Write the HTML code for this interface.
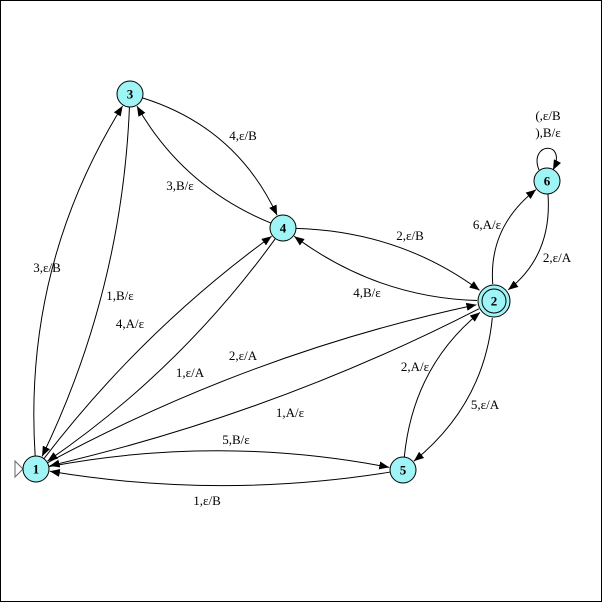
<!DOCTYPE html>
<html><head><meta charset="utf-8"><style>
html,body{margin:0;padding:0;background:#fff}
svg{display:block}
text{font-family:"Liberation Serif",serif;font-size:13px;fill:#000}
.nl{font-weight:bold;font-size:13px}
</style></head><body>
<svg id="chart" width="603" height="603" viewBox="0 0 603 603">
<defs>
<marker id="ah" markerWidth="10" markerHeight="8" refX="10" refY="4" orient="auto" markerUnits="userSpaceOnUse">
<path d="M0,0 L10,4 L0,8 z" fill="#000"/>
</marker>
</defs>
<rect x="0.5" y="0.5" width="601" height="601" fill="#fff" stroke="#000" stroke-width="1"/>
<g id="edges"></g>
<path d="M539,170 C528,142 568,140 553,170" fill="none" stroke="#000" marker-end="url(#ah)"/>
<text x="548" y="120" text-anchor="middle">(,ε/B</text>
<text x="548" y="137" text-anchor="middle">),B/ε</text>
<path d="M15,461 L23,469 L15,477 z" fill="#fff" stroke="#666"/>
<g id="nodes"></g>
<g id="labels"></g>
</svg>
<script>
const nodeIds=['1','2','3','4','5','6'];
const nodeX=[36,494,130,283,403,547];
const nodeY=[469,301,94,228,470,181];
const edgeFrom=['1','3','3','4','1','4','4','2','1','2','1','5','2','5','2','6'];
const edgeTo=  ['3','1','4','3','4','1','2','4','2','1','5','1','5','2','6','2'];
const edgeBend=[-62,-40,-45,-35,-25,-30,-35,-35,-35,-30,-35,-30,-40,-40,-35,-35];
const edgeLabel=['3,ε/B','1,B/ε','4,ε/B','3,B/ε','4,A/ε','1,ε/A','2,ε/B','4,B/ε','2,ε/A','1,A/ε','5,B/ε','1,ε/B','5,ε/A','2,A/ε','6,A/ε','2,ε/A'];
const labelX=[47,120,243,180,130,190,410,367,243,290,236,207,485,415,487,557];
const labelY=[272,300,140,190,328,377,240,297,360,417,444,505,409,371,229,262];
const NS='http://www.w3.org/2000/svg';
function pos(id){const i=nodeIds.indexOf(id);return [nodeX[i],nodeY[i],id==='2'?17:13];}
const eg=document.getElementById('edges');
for(let k=0;k<edgeFrom.length;k++){
  const [x1,y1,r1]=pos(edgeFrom[k]),[x2,y2,r2]=pos(edgeTo[k]);
  const dx=x2-x1,dy=y2-y1,L=Math.hypot(dx,dy);
  const cx=(x1+x2)/2+(-dy/L)*edgeBend[k],cy=(y1+y2)/2+(dx/L)*edgeBend[k];
  let ux=cx-x1,uy=cy-y1,ul=Math.hypot(ux,uy);
  const sx=x1+ux/ul*r1,sy=y1+uy/ul*r1;
  let vx=cx-x2,vy=cy-y2,vl=Math.hypot(vx,vy);
  const ex=x2+vx/vl*(r2+1),ey=y2+vy/vl*(r2+1);
  const p=document.createElementNS(NS,'path');
  p.setAttribute('d',`M${sx},${sy} Q${cx},${cy} ${ex},${ey}`);
  p.setAttribute('fill','none');p.setAttribute('stroke','#000');
  p.setAttribute('marker-end','url(#ah)');
  
  
  eg.appendChild(p);
  const t=document.createElementNS(NS,'text');
  t.setAttribute('x',labelX[k]);t.setAttribute('y',labelY[k]);
  t.setAttribute('text-anchor','middle');
  t.textContent=edgeLabel[k];
  
  
  document.getElementById('labels').appendChild(t);
}
const ng=document.getElementById('nodes');
for(let i=0;i<nodeIds.length;i++){
  const g=document.createElementNS(NS,'g');
  
  
  const c=document.createElementNS(NS,'circle');
  c.setAttribute('cx',nodeX[i]);c.setAttribute('cy',nodeY[i]);
  c.setAttribute('r',nodeIds[i]==='2'?16:13);
  c.setAttribute('fill','#9ff4f6');c.setAttribute('stroke','#000');
  g.appendChild(c);
  if(nodeIds[i]==='2'){
    const c2=document.createElementNS(NS,'circle');
    c2.setAttribute('cx',nodeX[i]);c2.setAttribute('cy',nodeY[i]);c2.setAttribute('r',12);
    c2.setAttribute('fill','none');c2.setAttribute('stroke','#000');
    g.appendChild(c2);
  }
  const t=document.createElementNS(NS,'text');
  t.setAttribute('x',nodeX[i]);t.setAttribute('y',nodeY[i]+4.5);
  t.setAttribute('text-anchor','middle');t.setAttribute('class','nl');
  t.textContent=nodeIds[i];
  g.appendChild(t);
  ng.appendChild(g);
}
</script>
</body></html>
